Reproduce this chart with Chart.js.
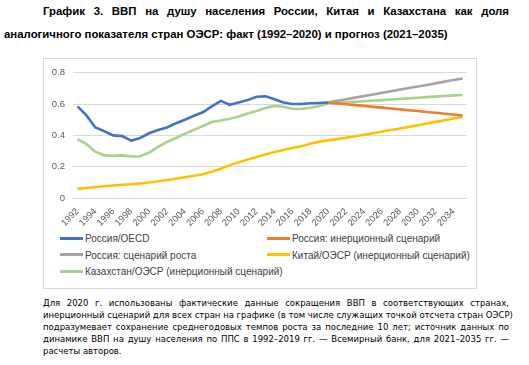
<!DOCTYPE html>
<html>
<head>
<meta charset="utf-8">
<script src="https://cdn.jsdelivr.net/npm/chart.js@4"></script>
<style>
  body { margin: 0; background: #fff; width: 529px; height: 365px; position: relative; overflow: hidden; font-family: "Liberation Sans", Arial, sans-serif; }
  .title { position: absolute; left: 4px; width: 505px; font-weight: bold; font-size: 11.4px; color: #000; white-space: nowrap; }
  .just { text-align: justify; text-align-last: justify; white-space: normal; }
  #box { position: absolute; left: 43px; top: 58px; width: 432px; height: 229px; border: 1px solid #d9d9d9; }
  #wrap { position: absolute; left: 0; top: 0; width: 432px; height: 169px; }
  #legend { position: absolute; left: 0; top: 172px; width: 432px; }
  .item { position: absolute; font-size: 10px; color: #404040; white-space: nowrap; line-height: 12px; }
  .item span.sw { display: inline-block; width: 23px; height: 3px; vertical-align: middle; margin-right: 2px; position: relative; top: -1px; }
  .note { position: absolute; left: 43px; width: 466px; font-family: "DejaVu Sans", sans-serif; font-size: 8.5px; color: #000; white-space: nowrap; }
</style>
</head>
<body>
<div class="title just" style="top:5px; left:43px; width:466px;">График 3. ВВП на душу населения России, Китая и Казахстана как доля</div>
<div class="title" style="top:28px;">аналогичного показателя стран ОЭСР: факт (1992–2020) и прогноз (2021–2035)</div>

<div id="box">
  <div id="wrap"><canvas id="c"></canvas></div>
  <div id="legend"></div>
</div>

<div class="note just" style="top:298px;">Для 2020 г. использованы фактические данные сокращения ВВП в соответствующих странах,</div>
<div class="note just" style="top:310px;">инерционный сценарий для всех стран на графике (в том числе служащих точкой отсчета стран ОЭСР)</div>
<div class="note just" style="top:322px;">подразумевает сохранение среднегодовых темпов роста за последние 10 лет; источник данных по</div>
<div class="note just" style="top:334px;">динамике ВВП на душу населения по ППС в 1992–2019 гг. — Всемирный банк, для 2021–2035 гг. —</div>
<div class="note" style="top:346px;">расчеты авторов.</div>

<script>
const years = ['1992','1993','1994','1995','1996','1997','1998','1999','2000','2001','2002',
  '2003','2004','2005','2006','2007','2008','2009','2010','2011','2012','2013','2014',
  '2015','2016','2017','2018','2019','2020','2021','2022','2023','2024','2025','2026',
  '2027','2028','2029','2030','2031','2032','2033','2034','2035'];

const yTicks = [0, 0.2, 0.4, 0.6, 0.8];

const russiaOecd = [0.585, 0.527, 0.45, 0.426, 0.40, 0.395, 0.366, 0.383, 0.413, 0.434, 0.45,
  0.477, 0.50, 0.525, 0.547, 0.585, 0.62, 0.595, 0.61, 0.625, 0.646, 0.65, 0.63,
  0.61, 0.60, 0.60, 0.605, 0.607, 0.61,
  null, null, null, null, null, null, null, null, null, null, null, null, null, null, null];

const russiaInertial = [null, null, null, null, null, null, null, null, null, null, null,
  null, null, null, null, null, null, null, null, null, null, null, null,
  null, null, null, null, null, 0.61,
  0.604, 0.599, 0.593, 0.588, 0.582, 0.577, 0.571, 0.566, 0.56, 0.555, 0.549, 0.544, 0.538, 0.533, 0.527];

const russiaGrowth = [null, null, null, null, null, null, null, null, null, null, null,
  null, null, null, null, null, null, null, null, null, null, null, null,
  null, null, null, null, null, 0.61,
  0.62, 0.63, 0.641, 0.651, 0.661, 0.671, 0.681, 0.692, 0.702, 0.712, 0.722, 0.732, 0.743, 0.753, 0.763];

const chinaOecd = [0.058, 0.064, 0.07, 0.075, 0.08, 0.084, 0.088, 0.093, 0.099, 0.107, 0.115,
  0.123, 0.132, 0.142, 0.152, 0.167, 0.187, 0.21, 0.228, 0.245, 0.261, 0.278, 0.294,
  0.307, 0.319, 0.331, 0.346, 0.36, 0.368,
  0.376, 0.385, 0.394, 0.404, 0.414, 0.424, 0.434, 0.444, 0.454, 0.465, 0.476, 0.486, 0.497, 0.508, 0.518];

const kazakhstanOecd = [0.375, 0.344, 0.296, 0.272, 0.27, 0.272, 0.265, 0.267, 0.29, 0.327, 0.358,
  0.383, 0.41, 0.435, 0.46, 0.485, 0.495, 0.506, 0.52, 0.54, 0.555, 0.574, 0.588,
  0.583, 0.57, 0.568, 0.576, 0.588, 0.603,
  0.607, 0.611, 0.614, 0.618, 0.622, 0.625, 0.629, 0.633, 0.636, 0.64, 0.644, 0.647, 0.651, 0.655, 0.658];

const seriesNames = ['Россия/OECD', 'Россия: инерционный сценарий', 'Россия: сценарий роста',
  'Китай/ОЭСР (инерционный сценарий)', 'Казахстан/ОЭСР (инерционный сценарий)'];
const seriesColors = ['#4472C4', '#ED7D31', '#A5A5A5', '#FFC000', '#A9D18E'];
const seriesData = [russiaOecd, russiaInertial, russiaGrowth, chinaOecd, kazakhstanOecd];

// legend in two columns, like the Excel original
const htmlLegend = {
  id: 'htmlLegend',
  afterUpdate(chart) {
    const box = document.getElementById('legend');
    box.innerHTML = '';
    chart.data.datasets.forEach((ds, i) => {
      const el = document.createElement('div');
      el.className = 'item';
      el.style.left = (i % 2 === 0 ? 16 : 223) + 'px';
      el.style.top = (2 + Math.floor(i / 2) * 16.5) + 'px';
      el.innerHTML = '<span class="sw" style="background:' + ds.borderColor + '"></span>' + ds.label;
      box.appendChild(el);
    });
  }
};

new Chart(document.getElementById('c'), {
  type: 'line',
  data: {
    labels: years,
    datasets: seriesNames.map((name, i) => ({
      label: name,
      data: seriesData[i],
      borderColor: seriesColors[i],
      backgroundColor: seriesColors[i],
      borderWidth: 2.6,
      pointRadius: 0,
      tension: 0,
      spanGaps: false
    }))
  },
  options: {
    responsive: true,
    maintainAspectRatio: false,
    animation: false,
    layout: { padding: { left: 0, right: 9, top: 7, bottom: 0 } },
    plugins: {
      legend: { display: false },
      tooltip: { enabled: false }
    },
    scales: {
      x: {
        offset: true,
        grid: { display: false },
        border: { display: false },
        afterFit(scale) { scale.height = 30; },
        ticks: {
          autoSkip: false,
          maxRotation: 45,
          minRotation: 45,
          padding: 0,
          color: '#595959',
          font: { family: 'Liberation Sans', size: 9.3 },
          callback(v, i) { return i % 2 === 0 ? years[i] : ''; }
        }
      },
      y: {
        min: 0,
        max: 0.8,
        afterFit(scale) { scale.width = 29; },
        afterBuildTicks(scale) { scale.ticks = yTicks.map(v => ({ value: v })); },
        grid: { color: '#d9d9d9', lineWidth: 1, drawTicks: false },
        border: { display: false },
        ticks: {
          padding: 8,
          color: '#595959',
          font: { family: 'Liberation Sans', size: 9.5 },
          callback(v) { return String(v); }
        }
      }
    }
  },
  plugins: [htmlLegend]
});
</script>
</body>
</html>
